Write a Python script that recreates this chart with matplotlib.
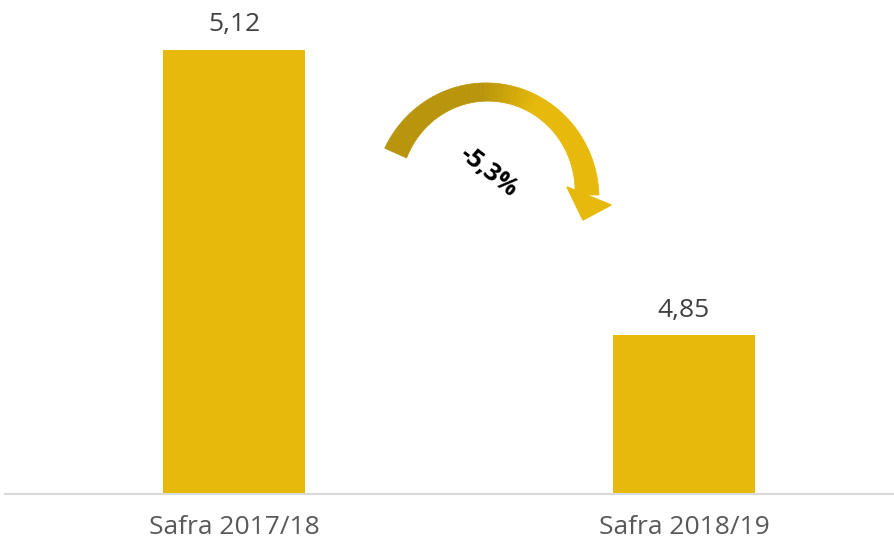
import numpy as np
import matplotlib
matplotlib.use("Agg")
import matplotlib.pyplot as plt
from matplotlib.patches import Polygon

# data
categories = ["Safra 2017/18", "Safra 2018/19"]
values = [5.12, 4.85]
value_labels = ["5,12", "4,85"]
change_label = "-5,3%"

BAR_COLOR = "#e6b90a"
TEXT_COLOR = "#404040"

plt.rcParams["font.family"] = ["Open Sans", "DejaVu Sans"]

W, H = 894, 547
fig = plt.figure(figsize=(W / 100, H / 100), dpi=100)

# main axes, baseline at y=494 px, axis not starting at zero
ax = fig.add_axes([5 / W, (H - 494) / H, 889 / W, 494 / H])
x = np.arange(len(categories))
ax.bar(x, values, width=0.3156, color=BAR_COLOR, zorder=2)
ax.set_ylim(4.70, 5.167)
ax.set_xlim(-0.509, 1.467)

for xi, v, lab in zip(x, values, value_labels):
    ax.annotate(lab, (xi, v), xytext=(0, 9), textcoords="offset points",
                ha="center", va="bottom", fontsize=19, color=TEXT_COLOR)

ax.set_xticks(x)
ax.set_xticklabels(categories, fontsize=19, color="#595959")
ax.tick_params(axis="x", length=0, pad=15)
ax.set_yticks([])
for side in ["top", "right", "left"]:
    ax.spines[side].set_visible(False)
ax.spines["bottom"].set_color("#d9d9d9")
ax.spines["bottom"].set_linewidth(1.5)

# overlay in pixel coords for the curved arrow
ov = fig.add_axes([0, 0, 1, 1])
ov.set_xlim(0, W)
ov.set_ylim(H, 0)
ov.axis("off")

cx, cy = 487, 195
rx, ry = 100, 103
a0, a1 = np.radians(156), np.radians(0)
n = 60
angs = np.linspace(a0, a1, n + 1)
c_dark = np.array(matplotlib.colors.to_rgb("#b8950a"))
c_light = np.array(matplotlib.colors.to_rgb("#e6b90a"))
for i in range(n):
    t0, t1 = angs[i], angs[i + 1]
    f0 = i / n
    f1 = (i + 1) / n
    w0 = 12 - 3 * np.sin(np.pi * f0)
    w1 = 12 - 3 * np.sin(np.pi * f1)
    pts = []
    for t, w in ((t0, w0), (t1, w1)):
        pts.append((cx + (rx + w) * np.cos(t), cy - (ry + w) * np.sin(t)))
    for t, w in ((t1, w1), (t0, w0)):
        pts.append((cx + (rx - w) * np.cos(t), cy - (ry - w) * np.sin(t)))
    f = min(1, max(0, (f0 - 0.4) / 0.2))
    col = c_dark * (1 - f) + c_light * f
    ov.add_patch(Polygon(pts, closed=True, facecolor=col, edgecolor=col, lw=0.5))

# arrow head
bx, by = cx + rx * np.cos(a1), cy - ry * np.sin(a1)
head = [(bx - 20, by - 8), (bx + 24, by + 10), (bx - 4, by + 25)]
ov.add_patch(Polygon(head, closed=True, facecolor=c_light, edgecolor=c_light))

ov.text(488, 172, change_label, fontsize=18, fontweight="bold", color="black",
        rotation=-38, ha="center", va="center")

fig.savefig("out.png", dpi=100)
